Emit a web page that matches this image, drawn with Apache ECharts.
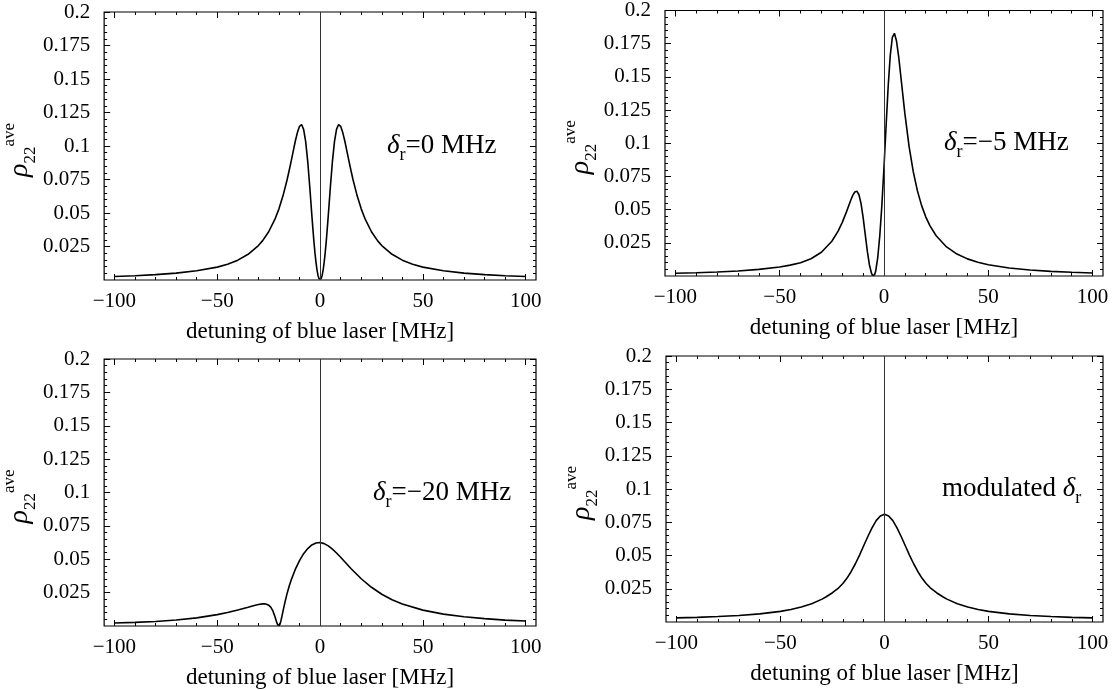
<!DOCTYPE html>
<html>
<head>
<meta charset="utf-8">
<script src="https://cdn.jsdelivr.net/npm/echarts@6/dist/echarts.min.js"></script>
<style>
html,body{margin:0;padding:0;background:#fff;}
#chart{width:1115px;height:690px;}
</style>
</head>
<body>
<div id="chart"></div>
<script>
// ---------- data ----------
const xTickLabels = [-100, -50, 0, 50, 100];
const xMinorTicks = [-100, -90, -80, -70, -60, -50, -40, -30, -20, -10, 0, 10, 20, 30, 40, 50, 60, 70, 80, 90, 100];
const yTickLabels = [0.025, 0.05, 0.075, 0.1, 0.125, 0.15, 0.175, 0.2];
const yMinorTicks = [0.005, 0.01, 0.015, 0.02, 0.025, 0.03, 0.035, 0.04, 0.045, 0.05, 0.055, 0.06, 0.065, 0.07, 0.075, 0.08, 0.085, 0.09, 0.095, 0.1, 0.105, 0.11, 0.115, 0.12, 0.125, 0.13, 0.135, 0.14, 0.145, 0.15, 0.155, 0.16, 0.165, 0.17, 0.175, 0.18, 0.185, 0.19, 0.195];

const panelLabels = ['δr=0 MHz', 'δr=−5 MHz', 'δr=−20 MHz', 'modulated δr'];

// panel 1: δr = 0 MHz
const det0 = [-100, -90, -80, -70, -60, -50, -45, -40, -35, -30, -28, -25, -22, -20, -18, -16, -15, -14, -13, -12, -11, -10, -9, -8, -7, -6, -5, -4, -3.5, -3, -2.5, -2, -1.5, -1, -0.5, 0,
  0.5, 1, 1.5, 2, 2.5, 3, 3.5, 4, 5, 6, 7, 8, 9, 10, 11, 12, 13, 14, 15, 16, 18, 20, 22, 25, 28, 30, 35, 40, 45, 50, 60, 70, 80, 90, 100];
const rho0 = [0.0026, 0.0032, 0.0040, 0.0051, 0.0069, 0.0096, 0.0118, 0.0148, 0.0192, 0.0257, 0.0292, 0.0360, 0.0452, 0.0531, 0.0630, 0.0750, 0.0819, 0.0891, 0.0966, 0.1039, 0.1102, 0.1147, 0.1160, 0.1124, 0.1033, 0.0884, 0.0692, 0.0483, 0.0383, 0.0288, 0.0204, 0.0133, 0.0076, 0.0034, 0.0009, 0,
  0.0009, 0.0034, 0.0076, 0.0133, 0.0204, 0.0288, 0.0383, 0.0483, 0.0692, 0.0884, 0.1033, 0.1124, 0.1160, 0.1147, 0.1102, 0.1039, 0.0966, 0.0891, 0.0819, 0.0750, 0.0630, 0.0531, 0.0452, 0.0360, 0.0292, 0.0257, 0.0192, 0.0148, 0.0118, 0.0096, 0.0069, 0.0051, 0.0040, 0.0032, 0.0026];

// panel 2: δr = -5 MHz
const det5 = [-100, -90, -80, -70, -60, -50, -45, -40, -35, -30, -25, -22, -20, -18, -16, -15, -14, -13, -12, -11, -10, -9, -8, -7, -6, -5.5, -5, -4.5, -4, -3, -2, -1, 0, 1, 2, 3, 4, 5, 6, 7, 8, 9, 10, 12, 14, 16, 18, 20, 22, 25, 30, 35, 40, 45, 50, 60, 70, 80, 90, 100];
const rho5 = [0.0021, 0.0025, 0.0030, 0.0038, 0.0050, 0.0068, 0.0082, 0.0100, 0.0130, 0.0179, 0.0262, 0.0338, 0.0404, 0.0483, 0.0569, 0.0607, 0.0633, 0.0639, 0.0612, 0.0545, 0.0440, 0.0313, 0.0187, 0.0085, 0.0021, 0.0005, 0, 0.0009, 0.0035, 0.0139, 0.0307, 0.0538, 0.0820, 0.1130, 0.1427, 0.1662, 0.1798, 0.1828, 0.1770, 0.1657, 0.1514, 0.1368, 0.1225, 0.0979, 0.0788, 0.0643, 0.0532, 0.0446, 0.0380, 0.0303, 0.0219, 0.0165, 0.0129, 0.0104, 0.0085, 0.0060, 0.0045, 0.0035, 0.0028, 0.0023];

// panel 3: δr = -20 MHz
const det20 = [-100, -90, -80, -70, -60, -50, -45, -40, -35, -32, -30, -28, -27, -26, -25, -24, -23, -22, -21, -20.5, -20, -19.5, -19, -18.5, -18, -17, -16, -15, -14, -12, -10, -8, -6, -4, -2, 0, 2, 4, 6, 8, 10, 12, 15, 20, 25, 30, 35, 40, 50, 60, 70, 80, 90, 100];
const rho20 = [0.0022, 0.0027, 0.0034, 0.0045, 0.0061, 0.0085, 0.0101, 0.0120, 0.0141, 0.0154, 0.0161, 0.0166, 0.0166, 0.0163, 0.0156, 0.0142, 0.0115, 0.0073, 0.0023, 0.0006, 0, 0.0012, 0.0041, 0.0076, 0.0113, 0.0183, 0.0246, 0.0300, 0.0347, 0.0426, 0.0490, 0.0542, 0.0580, 0.0607, 0.0622, 0.0625, 0.0617, 0.0600, 0.0576, 0.0547, 0.0515, 0.0481, 0.0431, 0.0354, 0.0290, 0.0238, 0.0197, 0.0165, 0.0119, 0.0089, 0.0069, 0.0055, 0.0044, 0.0037];

// panel 4: modulated δr
const detMod = [-100, -90, -80, -70, -60, -50, -45, -40, -35, -30, -28, -25, -22, -20, -18, -16, -14, -12, -10, -8, -6, -4, -2, 0, 2, 4, 6, 8, 10, 12, 14, 16, 18, 20, 22, 25, 28, 30, 35, 40, 45, 50, 60, 70, 80, 90, 100];
const rhoMod = [0.0031, 0.0035, 0.0041, 0.0049, 0.0061, 0.0080, 0.0094, 0.0113, 0.0138, 0.0172, 0.0190, 0.0220, 0.0257, 0.0290, 0.0330, 0.0380, 0.0438, 0.0503, 0.0573, 0.0643, 0.0708, 0.0762, 0.0797, 0.0810, 0.0797, 0.0762, 0.0708, 0.0643, 0.0573, 0.0503, 0.0438, 0.0380, 0.0330, 0.0290, 0.0257, 0.0220, 0.0190, 0.0172, 0.0138, 0.0113, 0.0094, 0.0080, 0.0061, 0.0049, 0.0041, 0.0035, 0.0031];

const panelX = [det0, det5, det20, detMod];
const panelY = [rho0, rho5, rho20, rhoMod];

// ---------- layout / style ----------
const FONT = 'Liberation Serif';
const grids = [
  {left: 102, top: 12, width: 434, height: 268},
  {left: 665, top: 9, width: 438, height: 267},
  {left: 102, top: 359, width: 434, height: 267},
  {left: 666, top: 356, width: 437, height: 266}
];
const labelPos = [[387, 146], [944, 143], [373, 493], [942, 489]];

const fmtX = v => (v < 0 ? '−' + Math.abs(v) : String(v));
const fmtY = v => String(parseFloat(v.toFixed(3)));
const noLine = {show: false, onZero: false};

function xAxesFor(gi) {
  const base = {type: 'value', gridIndex: gi, min: -105, max: 105, axisLine: noLine, splitLine: {show: false}};
  return [
    Object.assign({}, base, {
      position: 'bottom',
      axisTick: {show: true, inside: true, length: 6, customValues: xTickLabels, lineStyle: {color: '#000', width: 1}},
      axisLabel: {show: true, customValues: xTickLabels, formatter: fmtX, fontFamily: FONT, fontSize: 21, color: '#000', margin: 11},
      name: 'detuning of blue laser [MHz]', nameLocation: 'middle', nameGap: 40,
      nameTextStyle: {fontFamily: FONT, fontSize: 23, color: '#000'}
    }),
    Object.assign({}, base, {position: 'bottom', axisTick: {show: true, inside: true, length: 3, customValues: xMinorTicks, lineStyle: {color: '#000'}}, axisLabel: {show: false}}),
    Object.assign({}, base, {position: 'top', axisTick: {show: true, inside: true, length: 6, customValues: xTickLabels, lineStyle: {color: '#000'}}, axisLabel: {show: false}}),
    Object.assign({}, base, {position: 'top', axisTick: {show: true, inside: true, length: 3, customValues: xMinorTicks, lineStyle: {color: '#000'}}, axisLabel: {show: false}})
  ];
}
function yAxesFor(gi) {
  const base = {type: 'value', gridIndex: gi, min: 0, max: 0.2, axisLine: noLine, splitLine: {show: false}};
  return [
    Object.assign({}, base, {
      position: 'left',
      axisTick: {show: true, inside: true, length: 6, customValues: yTickLabels, lineStyle: {color: '#000'}},
      axisLabel: {show: true, customValues: yTickLabels, formatter: fmtY, fontFamily: FONT, fontSize: 21, color: '#000', margin: 14},
      name: '{r|ρ}{s|22}{a|ave}', nameLocation: 'middle', nameGap: 56, nameRotate: 90,
      nameTextStyle: {
        color: '#000',
        padding: [0, 8, 0, 0],
        rich: {
          r: {fontFamily: FONT, fontStyle: 'italic', fontSize: 28, lineHeight: 38, verticalAlign: 'middle', color: '#000'},
          s: {fontFamily: FONT, fontSize: 17, lineHeight: 24, verticalAlign: 'bottom', color: '#000'},
          a: {fontFamily: FONT, fontSize: 17, lineHeight: 20, verticalAlign: 'top', color: '#000'}
        }
      }
    }),
    Object.assign({}, base, {position: 'left', axisTick: {show: true, inside: true, length: 3, customValues: yMinorTicks, lineStyle: {color: '#000'}}, axisLabel: {show: false}}),
    Object.assign({}, base, {position: 'right', axisTick: {show: true, inside: true, length: 6, customValues: yTickLabels, lineStyle: {color: '#000'}}, axisLabel: {show: false}}),
    Object.assign({}, base, {position: 'right', axisTick: {show: true, inside: true, length: 3, customValues: yMinorTicks, lineStyle: {color: '#000'}}, axisLabel: {show: false}})
  ];
}

function richLabel(txt) {
  const parts = txt.split('δr');
  let s = '';
  parts.forEach((p, i) => {
    if (p) s += '{t|' + p + '}';
    if (i < parts.length - 1) s += '{d|δ}{s|r}';
  });
  return s;
}

const xAxis = [], yAxis = [], series = [], graphic = [];
grids.forEach((g, gi) => {
  xAxis.push(...xAxesFor(gi));
  yAxis.push(...yAxesFor(gi));
  series.push({
    type: 'line',
    xAxisIndex: gi * 4, yAxisIndex: gi * 4,
    data: panelX[gi].map((x, i) => [x, panelY[gi][i]]),
    showSymbol: false, symbol: 'none', smooth: false,
    lineStyle: {color: '#000', width: 1.6},
    silent: true,
    markLine: {
      silent: true, symbol: ['none', 'none'], label: {show: false},
      lineStyle: {color: '#333', width: 1, type: 'solid'},
      data: [{xAxis: 0}]
    }
  });
  graphic.push({
    type: 'text', x: labelPos[gi][0], y: labelPos[gi][1],
    style: {
      text: richLabel(panelLabels[gi]), align: 'left', verticalAlign: 'middle', fill: '#000',
      rich: {
        t: {fontFamily: FONT, fontSize: 27, lineHeight: 36, verticalAlign: 'middle', fill: '#000'},
        d: {fontFamily: FONT, fontStyle: 'italic', fontSize: 27, lineHeight: 36, verticalAlign: 'middle', fill: '#000'},
        s: {fontFamily: FONT, fontSize: 18, lineHeight: 27, verticalAlign: 'bottom', fill: '#000'}
      }
    }
  });
});

const chart = echarts.init(document.getElementById('chart'), null, {renderer: 'canvas'});
chart.setOption({
  animation: false,
  backgroundColor: '#fff',
  grid: grids.map(g => Object.assign({show: true, borderColor: '#000', borderWidth: 1.2, backgroundColor: 'transparent'}, g)),
  xAxis, yAxis, series, graphic
});
</script>
</body>
</html>
